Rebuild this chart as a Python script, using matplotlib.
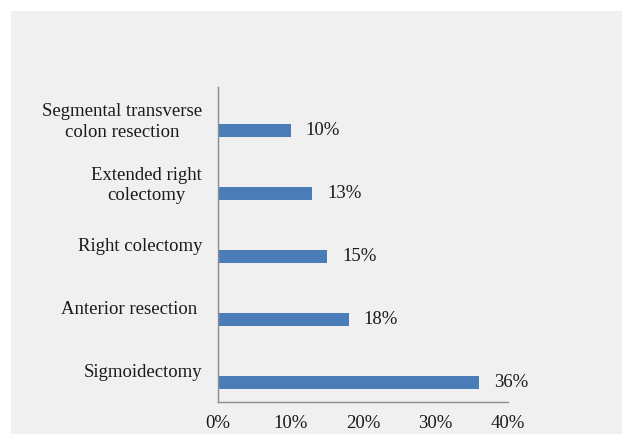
import matplotlib
matplotlib.use('Agg')
import matplotlib.pyplot as plt
from matplotlib.patches import Rectangle
from matplotlib.ticker import FuncFormatter

procedures = ['Sigmoidectomy', 'Anterior resection ', 'Right colectomy',
              'Extended right\ncolectomy', 'Segmental transverse\ncolon resection']
shares = [36, 18, 15, 13, 10]
x_ticks = [0, 10, 20, 30, 40]

plt.rcParams['font.family'] = ['Liberation Serif', 'DejaVu Serif']

fig = plt.figure(figsize=(6.22, 4.34), dpi=100, facecolor='white')
# light grey chart area, leaving a thin white margin top/left
bg = Rectangle((11/622, 0), 1, 1 - 11/434, transform=fig.transFigure,
               facecolor='#f0f0f0', edgecolor='none', zorder=-10)
fig.add_artist(bg)

ax = fig.add_axes([218/622, 1 - 402/434, (508 - 218)/622, (402 - 87)/434])
ax.set_facecolor('none')

pos = list(range(len(procedures)))
bar_pos = [p - 0.19 for p in pos]
ax.barh(bar_pos, shares, height=0.22, color='#4a7db8', zorder=2)
for y, v in zip(bar_pos, shares):
    ax.text(v + 2.1, y, f'{v}%', va='center', ha='left', fontsize=13.5, color='#1a1a1a')

ax.set_xlim(0, 40)
ax.set_ylim(-0.5, 4.5)
ax.set_xticks(x_ticks)
ax.xaxis.set_major_formatter(FuncFormatter(lambda v, _: f'{v:.0f}%'))
ax.set_yticks(pos)
ax.set_yticklabels(procedures, multialignment='center', linespacing=1.3)
ax.tick_params(axis='both', length=0, labelsize=13.5, colors='#1a1a1a')
ax.tick_params(axis='y', pad=11.5)
ax.tick_params(axis='x', pad=9)

for s in ['top', 'right']:
    ax.spines[s].set_visible(False)
for s in ['left', 'bottom']:
    ax.spines[s].set_color('#8c8c8c')
    ax.spines[s].set_linewidth(1.0)

fig.savefig('out.png', dpi=100)
